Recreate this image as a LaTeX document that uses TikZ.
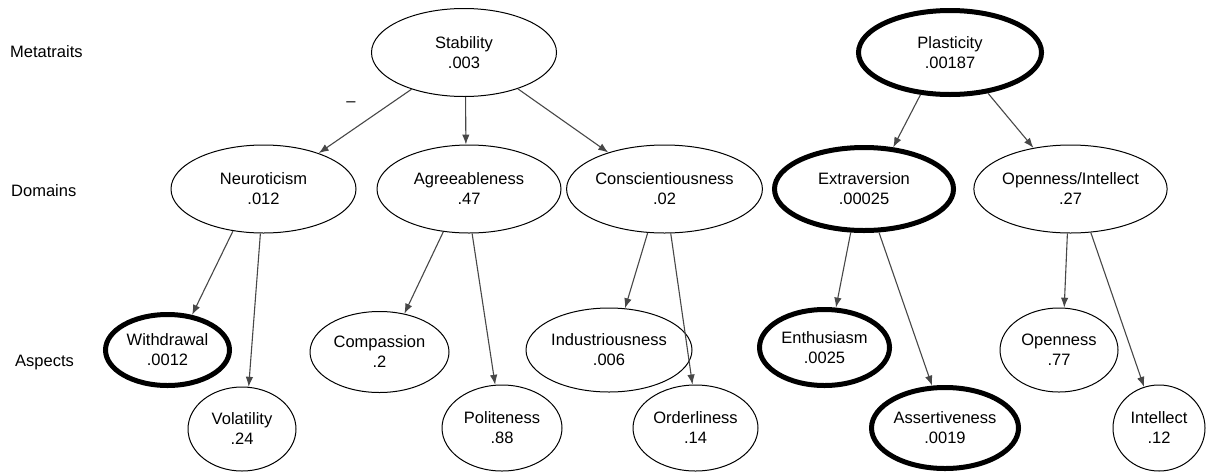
\documentclass[tikz,border=0pt]{standalone}
\usepackage{fontspec}
\setmainfont{Liberation Sans}
\usetikzlibrary{shapes.geometric,arrows.meta}
\begin{document}
\begin{tikzpicture}[x=1pt,y=-1pt,
  trait/.style={ellipse,draw=black,line width=1pt,fill=white,inner sep=0pt,
    align=center,font=\fontsize{16.5}{20}\selectfont},
  key/.style={trait,line width=5pt},
  rowlabel/.style={anchor=west,inner sep=0pt,font=\fontsize{16.5}{20}\selectfont},
  link/.style={draw=black!72,line width=1.1pt,-{Latex[length=10pt,width=7.5pt]}}]
\useasboundingbox (0,0) rectangle (1206,472);

% level labels
\node[rowlabel] (lmeta) at (10,52) {Metatraits};
\node[rowlabel] (ldom)  at (11,191) {Domains};
\node[rowlabel] (lasp)  at (15,363) {Aspects};

% metatraits
\node[trait,minimum width=185,minimum height=88] (stab) at (464,52.5) {Stability\\.003};
\node[key,minimum width=183,minimum height=84] (plas) at (950,52.5) {Plasticity\\.00187};

% domains
\node[trait,minimum width=185,minimum height=88] (neu) at (263.5,189) {Neuroticism\\.012};
\node[trait,minimum width=184,minimum height=88] (agr) at (469,189) {Agreeableness\\.47};
\node[trait,minimum width=189,minimum height=88] (con) at (664.5,189) {Conscientiousness\\.02};
\node[key,minimum width=179,minimum height=83] (ext) at (864,189) {Extraversion\\.00025};
\node[trait,minimum width=187,minimum height=88] (opi) at (1070.5,189) {Openness/Intellect\\.27};

% aspects
\node[key,minimum width=124,minimum height=71] (wit) at (167.5,350) {Withdrawal\\.0012};
\node[trait,minimum width=108,minimum height=84] (vol) at (242,429) {Volatility\\.24};
\node[trait,minimum width=139,minimum height=81] (com) at (379.5,352) {Compassion\\.2};
\node[trait,minimum width=120,minimum height=86] (pol) at (502,428) {Politeness\\.88};
\node[trait,minimum width=166,minimum height=84] (ind) at (609,350) {Industriousness\\.006};
\node[trait,minimum width=125,minimum height=86] (ord) at (695.5,428) {Orderliness\\.14};
\node[key,minimum width=130,minimum height=76] (ent) at (824.5,347.5) {Enthusiasm\\.0025};
\node[key,minimum width=147,minimum height=81] (ass) at (945,428) {Assertiveness\\.0019};
\node[trait,minimum width=118,minimum height=84] (ope) at (1059,350) {Openness\\.77};
\node[trait,minimum width=92,minimum height=86] (int) at (1159,428) {Intellect\\.12};

% sign on the stability-neuroticism path
\node[inner sep=0pt,font=\fontsize{16.5}{20}\selectfont] (neg) at (351,104) {–};

% metatraits to domains
\draw[link] (stab.-145) -- (neu.33);
\draw[link] (stab.-88) -- (agr.94);
\draw[link] (stab.-34) -- (con.147);
\draw[link] (plas.-125) -- (ext.55);
\draw[link] (plas.-47) -- (opi.132);

% domains to aspects
\draw[link] (neu.-126) -- (wit.55);
\draw[link] (neu.-94) -- (vol.81);
\draw[link] (agr.-121) -- (com.57);
\draw[link] (agr.-86) -- (pol.99);
\draw[link] (con.-111) -- (ind.69);
\draw[link] (con.-82) -- (ord.94);
\draw[link] (ext.-107) -- (ent.74);
\draw[link] (ext.-71) -- (ass.107);
\draw[link] (opi.-94) -- (ope.83);
\draw[link] (opi.-65) -- (int.110);
\end{tikzpicture}
\end{document}
